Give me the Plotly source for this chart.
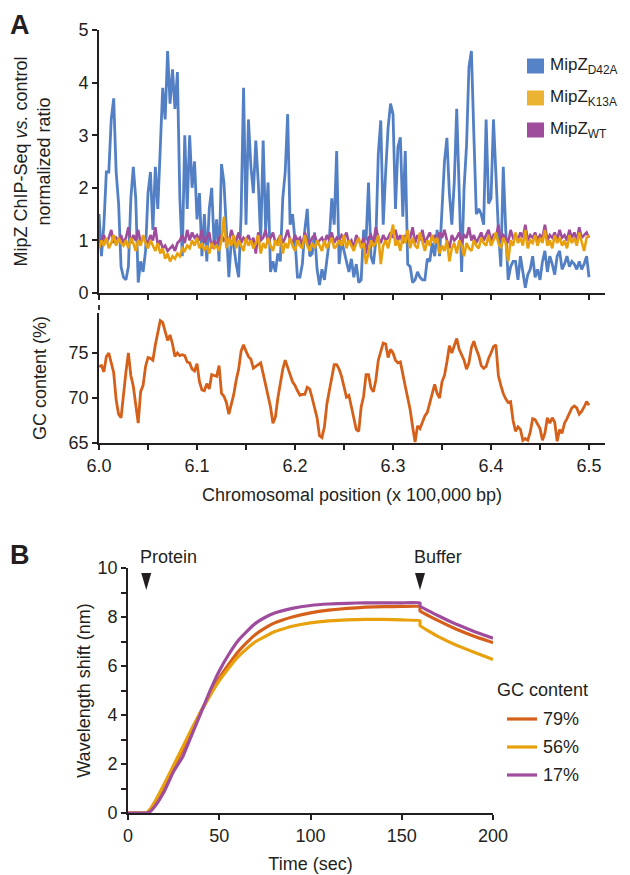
import plotly.graph_objects as go

# ---------------- Panel A data ----------------
positions = [round(6.0 + 0.0025 * i, 4) for i in range(201)]  # x 100,000 bp

mipz_d42a = [
    1.5, 0.7, 1.3, 2.3, 2.3, 3.3, 3.7, 2.3, 1.7, 0.5,
    0.3, 0.25, 0.5, 1.8, 2.4, 1.8, 0.2, 0.6, 0.4, 0.8,
    1.9, 2.3, 1.2, 2.4, 1.6, 2.9, 3.9, 3.3, 4.6, 3.6,
    4.25, 3.5, 4.2, 1.8, 0.7, 3.0, 1.6, 3.0, 2.0, 2.5,
    1.4, 1.9, 0.7, 1.5, 0.6, 1.6, 2.0, 0.9, 1.4, 0.6,
    2.45, 2.1, 1.3, 0.3, 1.0, 0.9, 0.55, 0.3, 1.5, 3.9,
    1.3, 3.3, 2.4, 1.9, 2.9, 2.1, 1.0, 2.9, 1.2, 2.1,
    0.4, 0.6, 0.4, 0.75, 0.6, 1.8, 2.3, 3.4, 1.3, 1.5,
    1.0, 0.3, 0.3, 0.55, 1.2, 1.6, 0.7, 0.75, 1.15, 0.45,
    0.15, 0.45, 0.25, 0.6, 1.0, 1.8, 1.3, 2.7, 0.55, 1.0,
    0.8, 0.55, 0.4, 0.65, 0.3, 0.55, 0.2, 0.25, 1.2, 1.0,
    2.1, 0.7, 0.55, 1.0, 2.65, 3.28, 1.3, 2.3, 3.15, 3.6,
    3.4, 1.6, 2.77, 2.96, 1.45, 2.7, 0.55, 0.5, 0.2, 0.25,
    0.4, 0.3, 0.25, 0.25, 0.65, 0.6, 0.95, 0.7, 1.2, 0.7,
    1.55, 2.5, 2.95, 1.9, 1.3, 2.1, 3.5, 2.0, 0.4, 2.0,
    2.8, 4.3, 4.6, 3.0, 1.5, 1.6, 1.5, 1.3, 3.3, 1.7,
    1.8, 3.3, 2.2, 1.2, 0.5, 2.4, 1.2, 0.25, 0.5, 0.6,
    0.6, 0.25, 0.7, 0.35, 0.1, 0.35, 0.45, 0.7, 0.3, 0.45,
    0.25, 0.6, 0.8, 0.4, 0.7, 0.55, 0.35, 0.7, 0.8, 0.45,
    0.55, 0.7, 0.5, 0.6, 0.55, 0.45, 0.6, 0.45, 0.55, 0.7,
    0.3,
]

mipz_k13a = [
    0.85, 1.0, 0.9, 1.05, 0.85, 0.95, 1.1, 0.9, 1.05, 0.95,
    0.9, 1.0, 0.85, 1.05, 0.95, 0.8, 1.0, 0.9, 1.1, 0.95,
    0.85, 1.0, 0.9, 0.8, 0.95, 0.75, 0.85, 0.65, 0.75, 0.6,
    0.7, 0.65, 0.75, 0.7, 0.85, 0.8, 0.9, 0.85, 1.0, 0.9,
    1.05, 0.85, 0.95, 0.8, 0.9, 0.75, 0.95, 0.85, 0.9, 0.8,
    1.0, 1.45, 0.85, 1.05, 0.9, 1.1, 0.85, 1.0, 0.9, 0.8,
    1.05, 0.9, 1.0, 0.85, 0.95, 1.1, 0.75, 0.95, 0.85, 1.05,
    0.9, 0.8, 1.0, 0.9, 1.1, 0.75, 0.95, 0.85, 1.05, 0.9,
    0.8, 1.0, 0.9, 0.85, 1.1, 0.9, 0.8, 0.95, 0.85, 1.0,
    0.9, 0.8, 1.0, 0.85, 0.95, 1.05, 0.85, 0.9, 1.0, 0.9,
    1.1, 0.85, 1.0, 0.9, 0.8, 0.95, 1.05, 0.85, 0.95, 0.55,
    0.8, 1.0, 0.9, 0.95, 1.1, 0.55, 0.9, 1.0, 0.85, 1.05,
    1.3, 0.9, 1.0, 0.8, 1.1, 0.95, 1.2, 0.85, 1.05, 0.9,
    0.85, 1.15, 0.95, 0.8, 1.0, 0.9, 1.1, 0.95, 1.05, 0.75,
    0.9, 0.8, 1.0, 0.6, 0.85, 0.95, 0.75, 1.0, 0.9, 0.7,
    0.95, 0.85, 0.8, 1.0, 0.9, 0.85, 1.05, 0.95, 0.9, 1.1,
    0.9, 1.0, 1.15, 0.95, 0.85, 1.05, 0.95, 0.6, 1.0, 0.9,
    1.15, 0.95, 1.05, 0.9, 1.2, 0.85, 1.0, 0.95, 1.1, 0.9,
    1.05, 0.95, 1.2, 0.9, 1.0, 0.85, 1.1, 0.95, 1.05, 0.9,
    1.0, 0.85, 1.1, 0.95, 1.05, 0.9, 1.15, 0.95, 0.8, 1.05,
    1.1,
]

mipz_wt = [
    0.95, 1.0, 1.1, 0.95, 1.05, 1.2, 0.95, 1.05, 1.0, 1.1,
    0.95, 1.05, 1.25, 0.95, 1.1, 1.0, 1.2, 0.95, 1.05, 1.0,
    0.95, 1.1, 1.0, 1.25, 0.9, 1.0, 0.85, 0.9, 0.8, 0.85,
    0.9, 0.8, 0.95, 1.0, 1.1, 0.95, 1.2, 1.0, 1.15, 1.05,
    1.1, 1.0, 1.2, 0.95, 1.05, 1.15, 0.85, 1.0, 0.9, 1.05,
    1.1, 1.0, 1.05, 0.95, 1.2, 1.05, 1.0, 1.15, 0.95, 1.05,
    1.0, 1.1, 0.95, 1.05, 0.75, 1.15, 1.0, 1.05, 1.2, 0.95,
    1.05, 1.15, 0.95, 1.0, 1.1, 0.95, 1.05, 1.2, 1.0, 0.95,
    1.1, 1.0, 1.05, 0.9, 1.15, 1.0, 0.95, 1.05, 1.1, 0.95,
    1.0, 1.05, 0.95, 1.1, 1.0, 1.15, 0.95, 1.05, 1.0, 1.1,
    1.05, 1.15, 0.95, 1.0, 0.85, 1.1, 1.0, 0.9, 1.05, 0.75,
    1.05, 1.1, 0.95, 1.25, 1.05, 0.95, 1.1, 1.0, 1.05, 1.15,
    1.05, 1.2, 1.0, 1.1, 0.95, 1.1, 1.0, 1.05, 1.25, 0.95,
    1.1, 1.0, 1.2, 0.95, 1.05, 1.15, 1.0, 1.1, 0.95, 1.15,
    1.05, 1.2, 1.0, 0.85, 1.1, 1.0, 1.05, 1.15, 0.95, 1.1,
    1.05, 1.25, 1.0, 1.1, 0.95, 1.05, 1.15, 1.0, 1.1, 1.2,
    1.0, 1.1, 1.05, 1.3, 1.0, 1.1, 1.05, 0.95, 1.2, 1.05,
    1.1, 1.0, 1.15, 1.05, 1.3, 1.0, 1.1, 1.05, 1.15, 1.0,
    1.1, 1.05, 1.3, 1.0, 1.1, 1.05, 1.15, 1.0, 1.2, 1.05,
    1.1, 1.0, 1.2, 1.05, 1.15, 1.0, 1.25, 1.05, 1.1, 1.15,
    1.05,
]

gc_content = [
    73.5, 73.6, 72.9, 74.6, 75.0, 73.9, 72.8, 69.8, 68.2, 67.8,
    70.5, 72.9, 75.0, 72.5, 71.3, 69.5, 67.2, 70.7, 71.4, 73.5,
    74.5, 74.4, 74.2, 75.9, 77.4, 78.6, 78.4, 77.4, 76.4, 77.0,
    76.0, 74.6, 75.0, 74.7, 74.8, 74.7, 74.0, 73.9, 73.2, 73.0,
    73.8, 71.8, 70.9, 70.8, 71.6, 71.0, 72.6, 72.5, 72.4, 73.6,
    70.5, 70.2, 69.5, 68.2, 69.2, 70.4, 72.0, 73.2, 75.2, 75.9,
    75.2, 74.6, 74.3, 73.3, 73.5, 73.7, 73.9, 72.7, 71.4, 70.1,
    69.0, 67.2, 67.9, 70.0, 71.8, 73.2, 74.2, 73.5, 72.6, 71.8,
    71.4, 70.8, 70.3, 70.4, 70.4, 71.2, 71.0, 70.0, 68.8, 67.8,
    65.8, 65.6, 66.8, 69.3, 70.8, 72.4, 73.7, 73.7, 73.2, 72.4,
    71.3, 70.1, 70.3, 68.9, 67.8, 66.5, 66.3, 69.0, 70.2, 72.6,
    72.6, 71.1, 70.7, 72.0, 74.2, 75.2, 76.1, 76.0, 74.5, 75.4,
    75.0, 74.2, 73.9, 74.0, 72.8, 71.3, 70.0, 68.7, 66.8, 65.1,
    66.9, 66.6, 67.3, 68.0, 68.4, 69.4, 70.5, 71.5, 70.5, 70.0,
    71.8, 72.5, 74.0, 75.8, 75.0, 75.9, 76.6, 75.4, 74.8, 74.2,
    73.2, 73.9, 75.6, 76.3, 75.4, 74.7, 73.6, 73.3, 73.5, 74.4,
    75.0, 75.7, 75.9, 72.5, 71.4, 70.5, 69.9, 69.5, 69.6, 67.5,
    66.3, 66.8, 66.5, 65.3, 65.5, 65.3, 66.2, 67.7, 67.6, 67.1,
    66.6, 65.3, 66.1, 67.8, 67.2, 67.8, 67.3, 65.2, 66.5, 66.1,
    67.2, 67.7, 68.4, 68.9, 69.1, 68.9, 68.2, 68.5, 69.0, 69.6,
    69.2,
]

a_series_names = ["MipZ<sub>D42A</sub>", "MipZ<sub>K13A</sub>", "MipZ<sub>WT</sub>"]
a_x_all_ticks = [6.0, 6.05, 6.1, 6.15, 6.2, 6.25, 6.3, 6.35, 6.4, 6.45, 6.5]
a_x_major = [6.0, 6.1, 6.2, 6.3, 6.4, 6.5]
a_x_labels = ["6.0", "6.1", "6.2", "6.3", "6.4", "6.5"]
a_x_minor = [6.05, 6.15, 6.25, 6.35, 6.45]
a_y_ticks = [0, 1, 2, 3, 4, 5]
gc_y_ticks = [65, 70, 75]

# ---------------- Panel B data ----------------
time_s = [0, 5, 10, 12, 15, 20, 25, 30, 35, 40, 45, 50, 55, 60, 65, 70, 75, 80,
          90, 100, 110, 120, 130, 140, 150, 160, 160, 170, 180, 190, 200]
gc79 = [0, 0, 0, 0.1, 0.4, 1.1, 1.85, 2.6, 3.4, 4.15, 4.85, 5.5, 6.05, 6.55, 6.95,
        7.3, 7.55, 7.75, 8.0, 8.17, 8.28, 8.35, 8.4, 8.42, 8.43, 8.43, 8.25,
        7.85, 7.5, 7.2, 6.95]
gc56 = [0, 0, 0, 0.15, 0.5, 1.2, 1.95, 2.7, 3.45, 4.15, 4.8, 5.4, 5.9, 6.35, 6.7,
        7.0, 7.2, 7.4, 7.62, 7.76, 7.84, 7.88, 7.9, 7.9, 7.88, 7.85, 7.65,
        7.2, 6.85, 6.55, 6.27]
gc17 = [0, 0, 0, 0.05, 0.3, 0.9, 1.7, 2.3, 3.2, 4.1, 5.0, 5.8, 6.45, 7.0, 7.4,
        7.75, 7.98, 8.15, 8.35, 8.47, 8.53, 8.56, 8.58, 8.58, 8.58, 8.58, 8.45,
        8.05, 7.7, 7.4, 7.13]
b_series_names = ["79%", "56%", "17%"]
event_times = [10, 160]
event_labels = ["Protein", "Buffer"]
b_x_ticks = [0, 50, 100, 150, 200]
b_y_major = [0, 2, 4, 6, 8, 10]
b_y_minor = [1, 3, 5, 7, 9]

# ---------------- styling ----------------
INK = "#231f20"
C_BLUE = "#5380c4"
C_YEL = "#e8a10c"
C_PUR = "#9f4c9c"
C_ORG = "#d5601a"
FONT = "Liberation Sans, Arial, sans-serif"

W, H = 630, 875
OFF = 8  # page body margin offset
def px_x(p): return (p - OFF) / W
def px_y(p): return 1 - (p - OFF) / H

fig = go.Figure()

# Panel A traces (drawn blue, purple, yellow)
fig.add_trace(go.Scatter(x=positions, y=mipz_d42a, mode="lines", xaxis="x", yaxis="y",
                         line=dict(color=C_BLUE, width=2.8), showlegend=False))
fig.add_trace(go.Scatter(x=positions, y=mipz_wt, mode="lines", xaxis="x", yaxis="y",
                         line=dict(color=C_PUR, width=2.6), showlegend=False))
fig.add_trace(go.Scatter(x=positions, y=mipz_k13a, mode="lines", xaxis="x", yaxis="y",
                         line=dict(color=C_YEL, width=2.6), showlegend=False))

# GC content trace
fig.add_trace(go.Scatter(x=positions, y=gc_content, mode="lines", xaxis="x2", yaxis="y2",
                         line=dict(color=C_ORG, width=2.8), showlegend=False))

# Panel B traces
b_colors = [C_ORG, C_YEL, C_PUR]
for name, ys, col in zip(b_series_names, [gc79, gc56, gc17], b_colors):
    fig.add_trace(go.Scatter(x=time_s, y=ys, mode="lines", xaxis="x3", yaxis="y3",
                             line=dict(color=col, width=3.2, shape="spline", smoothing=0.3),
                             name=name, showlegend=False))

axis_common = dict(showline=True, linecolor=INK, linewidth=1.8, ticks="outside",
                   ticklen=5, tickwidth=1.8, tickcolor=INK, showgrid=False, zeroline=False,
                   automargin=False, tickfont=dict(size=18, color=INK))
minor_style = dict(ticks="outside", ticklen=5, tickwidth=1.8, tickcolor=INK, showgrid=False)

dom_ax = [px_x(99), px_x(605)]
fig.update_layout(
    width=W, height=H, margin=dict(l=0, r=0, t=0, b=0),
    paper_bgcolor="white", plot_bgcolor="white", showlegend=False,
    font=dict(family=FONT, size=18, color=INK),
    xaxis=dict(domain=dom_ax, range=[6.0, 6.5163], anchor="y", tickvals=a_x_all_ticks,
               showticklabels=False, **axis_common),
    yaxis=dict(domain=[px_y(293), px_y(30)], range=[0, 5], anchor="x", tickvals=a_y_ticks,
               title=dict(text="MipZ ChIP-Seq <i>vs.</i> control<br>normalized ratio",
                          standoff=23, font=dict(size=18)), **axis_common),
    xaxis2=dict(domain=dom_ax, range=[6.0, 6.5163], anchor="y2", tickvals=a_x_major,
                ticktext=a_x_labels, minor=dict(tickvals=a_x_minor, **minor_style),
                title=dict(text="Chromosomal position (x 100,000 bp)", standoff=14,
                           font=dict(size=18)), **axis_common),
    yaxis2=dict(domain=[px_y(443), px_y(313)], range=[65, 79.44], anchor="x2",
                tickvals=gc_y_ticks,
                title=dict(text="GC content (%)", standoff=17, font=dict(size=18)),
                **axis_common),
    xaxis3=dict(domain=[px_x(128), px_x(493)], range=[0, 200], anchor="y3",
                tickvals=b_x_ticks,
                title=dict(text="Time (sec)", standoff=13, font=dict(size=18)), **axis_common),
    yaxis3=dict(domain=[px_y(813), px_y(568)], range=[0, 10], anchor="x3",
                tickvals=b_y_major, minor=dict(tickvals=b_y_minor, **minor_style),
                title=dict(text="Wavelength shift (nm)", standoff=2, font=dict(size=18)),
                **axis_common),
)

# Legend A (square swatches + labels)
a_legend_cols = ["#5683c7", "#ebb332", "#a04c9c"]
for k, (name, col) in enumerate(zip(a_series_names, a_legend_cols)):
    yc = 66 + 32 * k
    fig.add_shape(type="rect", xref="paper", yref="paper", x0=px_x(527), x1=px_x(544),
                  y0=px_y(yc + 7.5), y1=px_y(yc - 7.5), fillcolor=col, line=dict(width=0))
    fig.add_annotation(x=px_x(548), y=px_y(yc), xref="paper", yref="paper", text=name,
                       showarrow=False, xanchor="left", yanchor="middle",
                       font=dict(size=17, color=INK))

# Legend B (line swatches + labels)
fig.add_annotation(x=px_x(495), y=px_y(690), xref="paper", yref="paper", text="GC content",
                   showarrow=False, xanchor="left", yanchor="middle",
                   font=dict(size=18, color=INK))
for k, (name, col) in enumerate(zip(b_series_names, b_colors)):
    yc = 719 + 28 * k
    fig.add_shape(type="line", xref="paper", yref="paper", x0=px_x(507), x1=px_x(537),
                  y0=px_y(yc), y1=px_y(yc), line=dict(color=col, width=3.2))
    fig.add_annotation(x=px_x(541), y=px_y(yc), xref="paper", yref="paper", text=name,
                       showarrow=False, xanchor="left", yanchor="middle",
                       font=dict(size=18, color=INK))

# axis break mark on GC axis
fig.add_shape(type="line", xref="paper", yref="paper", x0=px_x(99), x1=px_x(99),
              y0=px_y(310), y1=px_y(305), line=dict(color=INK, width=1.8))

# event markers (Protein / Buffer)
for t, lab in zip(event_times, event_labels):
    fig.add_shape(type="path", xref="x3", yref="y3", xsizemode="pixel", ysizemode="pixel",
                  xanchor=t, yanchor=9.47, path="M-5,8 L5,8 L0,-9 Z",
                  fillcolor=INK, line=dict(color=INK, width=0))
    fig.add_annotation(x=t, y=10, xref="x3", yref="y3", text=lab, showarrow=False,
                       xanchor="left", yanchor="bottom", xshift=-8, yshift=-1,
                       font=dict(size=18, color=INK))

# panel letters
fig.add_annotation(x=px_x(8), y=px_y(8), xref="paper", yref="paper", text="<b>A</b>",
                   showarrow=False, xanchor="left", yanchor="top",
                   font=dict(size=27, color=INK))
fig.add_annotation(x=px_x(8), y=px_y(538), xref="paper", yref="paper", text="<b>B</b>",
                   showarrow=False, xanchor="left", yanchor="top",
                   font=dict(size=27, color=INK))

fig.write_html("out.html")
